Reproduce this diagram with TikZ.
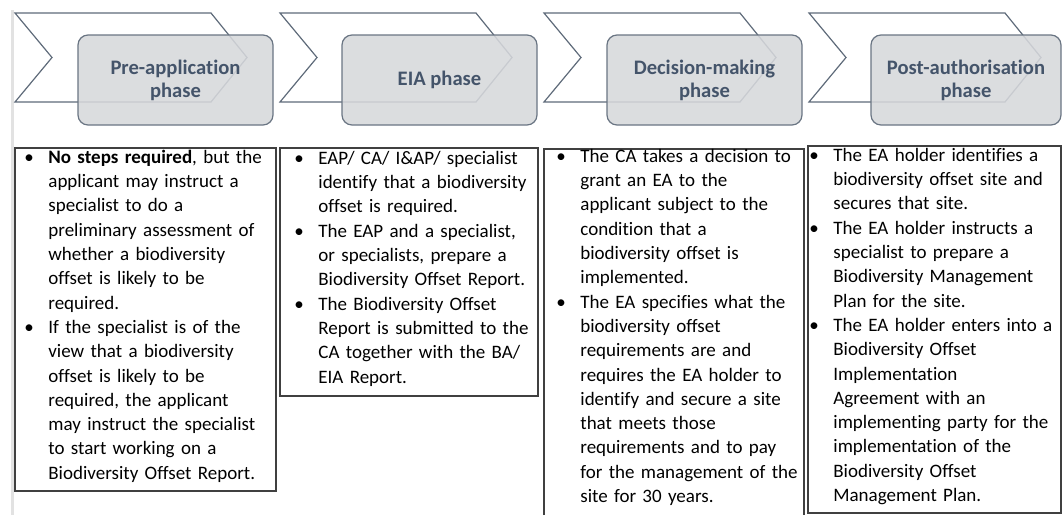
\documentclass[tikz,border=0pt]{standalone}
\usepackage{fontspec}
\setmainfont{Carlito}[Ligatures=NoCommon]
\usepackage{tikz}

\definecolor{headtext}{HTML}{44546A}
\definecolor{headfill}{HTML}{D6D8DB}
\definecolor{headline}{HTML}{6A7583}
\definecolor{chevline}{HTML}{5E6A79}
\definecolor{boxline}{HTML}{404040}
\definecolor{sidebar}{HTML}{E2E2E2}

\newcommand{\bitem}[1]{\par\raggedright\let\\\newline\hangindent=12pt\hangafter=1\noindent\makebox[12pt][l]{\textbullet}#1\par}

\begin{document}
\begin{tikzpicture}[x=0.5pt,y=-0.5pt,
	chevron/.style={draw=chevline,line width=0.6pt,line join=miter},
	phase/.style={draw=headline,line width=0.6pt,fill=headfill,fill opacity=0.88,text opacity=1,rounded corners=5pt,minimum height=45pt,align=center,text=headtext,font=\fontsize{10.3}{11.5}\selectfont\bfseries},
	stepbox/.style={draw=boxline,line width=0.6pt},
	steptext/.style={anchor=base west,inner sep=0pt,text width=135pt,font=\fontsize{9.5}{12.15}\selectfont}]
	\useasboundingbox (0,0) rectangle (1062,515);
	\fill[sidebar] (11,10) rectangle (14,515);
	\foreach \L in {15,280,544,809}
		\draw[chevron] (\L,13) -- ++(196,0) -- ++(36,44.5) -- ++(-36,44.5) -- ++(-196,0) -- ++(37,-44.5) -- cycle;
	\node[phase,minimum width=97.5pt] (preHead) at (175.5,80) {Pre-application\\phase};
	\node[phase,minimum width=97.5pt] (eiaHead) at (439.5,80) {EIA phase};
	\node[phase,minimum width=97.5pt] (decHead) at (704.5,80) {Decision-making\\phase};
	\node[phase,minimum width=95pt] (postHead) at (966,80) {Post-authorisation\\phase};
	\draw[stepbox] (15,148) rectangle (276,491);
	\draw[stepbox] (280,148) rectangle (538,396);
	\draw[stepbox] (544,515) -- (544,149) -- (804,149) -- (804,515);
	\draw[stepbox] (808,146) rectangle (1061,513);
	\node[steptext] (preText) at (24,139) {%
		\bitem{\textbf{No steps required}, but the\\ applicant may instruct a\\ specialist to do a\\ preliminary assessment of\\ whether a biodiversity\\ offset is likely to be\\ required.}%
		\bitem{If the specialist is of the\\ view that a biodiversity\\ offset is likely to be\\ required, the applicant\\ may instruct the specialist\\ to start working on a\\ Biodiversity Offset Report.}};
	\node[steptext] (eiaText) at (294,140) {%
		\bitem{EAP/ CA/ I\&AP/ specialist\\ identify that a biodiversity\\ offset is required.}%
		\bitem{The EAP and a specialist,\\ or specialists, prepare a\\ Biodiversity Offset Report.}%
		\bitem{The Biodiversity Offset\\ Report is submitted to the\\ CA together with the BA/\\ EIA Report.}};
	\node[steptext] (decText) at (556,138) {%
		\bitem{The CA takes a decision to\\ grant an EA to the\\ applicant subject to the\\ condition that a\\ biodiversity offset is\\ implemented.}%
		\bitem{The EA specifies what the\\ biodiversity offset\\ requirements are and\\ requires the EA holder to\\ identify and secure a site\\ that meets those\\ requirements and to pay\\ for the management of the\\ site for 30 years.}};
	\node[steptext] (postText) at (809,137) {%
		\bitem{The EA holder identifies a\\ biodiversity offset site and\\ secures that site.}%
		\bitem{The EA holder instructs a\\ specialist to prepare a\\ Biodiversity Management\\ Plan for the site.}%
		\bitem{The EA holder enters into a\\ Biodiversity Offset\\ Implementation\\ Agreement with an\\ implementing party for the\\ implementation of the\\ Biodiversity Offset\\ Management Plan.}};
\end{tikzpicture}
\end{document}
